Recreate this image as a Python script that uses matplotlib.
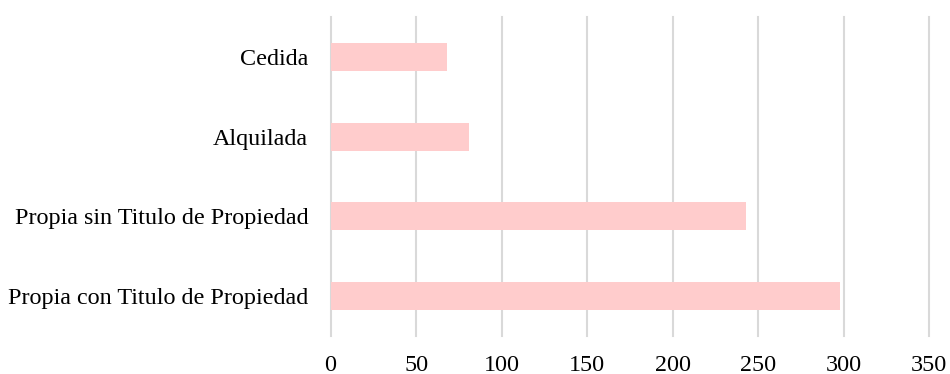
import matplotlib
matplotlib.use("Agg")
import matplotlib.pyplot as plt

categories = ["Propia con Titulo de Propiedad", "Propia sin Titulo de Propiedad", "Alquilada", "Cedida"]
values = [298, 243, 81, 68]
xticks = [0, 50, 100, 150, 200, 250, 300, 350]

plt.rcParams['font.family'] = ['Liberation Serif', 'DejaVu Serif']

fig = plt.figure(figsize=(9.5, 3.74), dpi=100)
ax = fig.add_axes([0.348, 0.1016, 0.630, 0.8529])

ax.barh(range(len(categories)), values, height=0.35, color='#ffcccc', zorder=3)
ax.set_yticks(range(len(categories)))
ax.set_yticklabels(categories, fontsize=17.4)
ax.set_xticks(xticks)
ax.set_xticklabels([str(t) for t in xticks], fontsize=17.4)
ax.set_xlim(0, 350)
ax.set_ylim(-0.5, 3.5)
ax.grid(axis='x', color='#d9d9d9', linewidth=1.5, zorder=0)
for gl in ax.get_xgridlines():
    gl.set_clip_on(False)
ax.grid(axis='y', visible=False)
for s in ax.spines.values():
    s.set_visible(False)
ax.tick_params(axis='both', length=0, colors='#000000')
ax.tick_params(axis='y', pad=16)
ax.tick_params(axis='x', pad=13.5)
ax.set_axisbelow(True)

fig.savefig("out.png", dpi=100)
